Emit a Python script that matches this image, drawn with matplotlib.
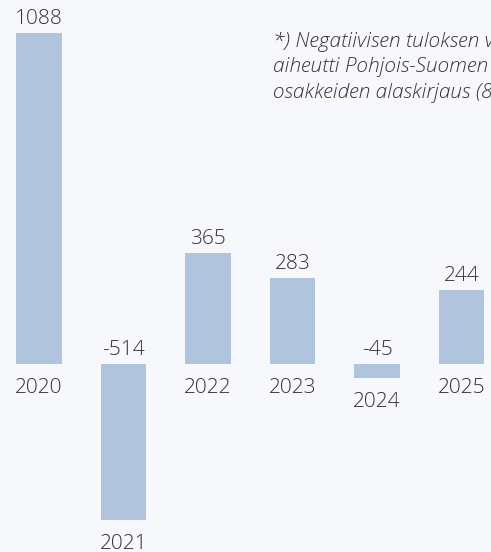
import matplotlib
matplotlib.use("Agg")
import matplotlib.pyplot as plt

years = ["2020", "2021", "2022", "2023", "2024", "2025"]
values = [1088, -514, 365, 283, -45, 244]
note = ("*) Negatiivisen tuloksen vuonna 2021\n"
        "aiheutti Pohjois-Suomen Energiatalon\n"
        "osakkeiden alaskirjaus (8 M€)")

bg = "#f7f8fc"
bar_color = "#b0c4de"
text_color = "#333333"

plt.rcParams["font.family"] = ["Open Sans", "DejaVu Sans"]

fig = plt.figure(figsize=(4.91, 5.52), dpi=100, facecolor=bg)
ax = fig.add_axes([0, 0, 1, 1])
ax.set_facecolor(bg)

x = list(range(len(years)))
ax.bar(x, values, width=0.544, color=bar_color)

px = 72 / 100  # points per pixel
label_kw = dict(textcoords="offset points", ha="center", va="baseline",
                fontsize=15, color=text_color, fontweight="light")
for xi, yr, v in zip(x, years, values):
    if v >= 0:
        ax.annotate(str(v), (xi, v), xytext=(0, 9 * px), **label_kw)
        ax.annotate(yr, (xi, 0), xytext=(0, -29 * px), **label_kw)
    else:
        ax.annotate(str(v), (xi, 0), xytext=(0, 9 * px), **label_kw)
        ax.annotate(yr, (xi, v), xytext=(0, -29 * px), **label_kw)

# footnote, runs off the right edge like in the original
# (va="baseline" on multi-line text pins the last line)
ax.text(273 / 491, 1 - 98 / 552, note, transform=ax.transAxes, ha="left", va="baseline",
        fontsize=15, style="italic", color=text_color, linespacing=1.37, fontweight="light")

ax.set_xlim(-0.4615, 5.349)
ax.set_ylim(-618, 1196.6)
ax.axis("off")

fig.savefig("out.png", dpi=100, facecolor=bg)
